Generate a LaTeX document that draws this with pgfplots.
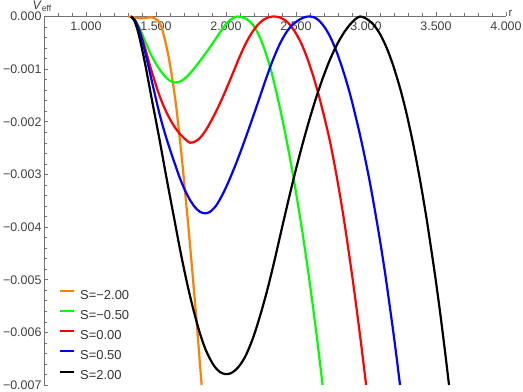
\documentclass[border=0pt]{standalone}
\usepackage{fontspec}
\setmainfont{Liberation Sans}
\usepackage{pgfplots}
\pgfplotsset{compat=1.18}
\definecolor{mOrange}{rgb}{1,0.5,0}
\definecolor{mGreen}{rgb}{0,1,0}
\definecolor{axisgray}{gray}{0.45}
\begin{document}
\begin{tikzpicture}
\begin{axis}[
  scale only axis, width=462bp, height=368.5bp,
  xmin=0.7, xmax=4.0, ymin=-0.007, ymax=0,
  axis x line=top, axis y line=left,
  axis line style={draw=axisgray, line width=0.7bp, -},
  every outer x axis line/.append style={-}, every outer y axis line/.append style={-},
  every inner x axis line/.append style={-}, every inner y axis line/.append style={-},
  clip=false,
  xtick={1,1.5,2,2.5,3,3.5,4},
  xticklabels={1.000,1.500,2.000,2.500,3.000,3.500,4.000},
  minor xtick={0.8,0.9,1.1,1.2,1.3,1.4,1.6,1.7,1.8,1.9,2.1,2.2,2.3,2.4,2.6,2.7,2.8,2.9,3.1,3.2,3.3,3.4,3.6,3.7,3.8,3.9},
  ytick={-0.007,-0.006,-0.005,-0.004,-0.003,-0.002,-0.001,0},
  yticklabels={−0.007,−0.006,−0.005,−0.004,−0.003,−0.002,−0.001,0.000},
  minor y tick num=4,
  scaled ticks=false,
  tick align=inside,
  major tick length=4.5bp, minor tick length=3bp,
  tick style={draw=axisgray, line width=0.6bp},
  every major x tick/.append style={yshift=4.5bp},
  every minor x tick/.append style={yshift=3bp},
  tick label style={font=\fontsize{12.5}{14}\selectfont, text=black!75},
  yticklabel style={xshift=1bp},
  xticklabel style={anchor=north, yshift=-1.5bp},
  xlabel={r}, ylabel={\textit{V}\textsubscript{eff}},
  every axis x label/.style={at={(rel axis cs:1,1)}, anchor=base west, xshift=-1bp, yshift=0bp, font=\fontsize{11.5}{13}\selectfont, text=black!75},
  every axis y label/.style={at={(rel axis cs:0,1)}, anchor=base west, xshift=-15bp, yshift=7bp, font=\fontsize{12.5}{14}\selectfont, text=black!75},
  legend style={draw=none, fill=none, at={(rel axis cs:0,0)}, anchor=south west, xshift=15bp, yshift=2bp,
    font=\fontsize{13}{15}\selectfont, text=black!80, row sep=5.5bp, inner sep=0pt, nodes={inner sep=2bp},
    /tikz/every odd column/.style={column sep=3bp}},
  legend cell align=left,
  legend image code/.code={\draw[#1,line width=2bp] (0bp,4bp) -- (14bp,4bp);},
  every axis plot/.append style={line width=2.2bp, smooth, tension=0.5},
]
\addplot[color=mOrange] coordinates {
 (1.302,0) (1.343,-0.0000152) (1.386,-0.0000323) (1.429,-0.0000266) (1.464,-0.0000133)
 (1.493,-0.000038) (1.514,-0.000076) (1.536,-0.0001805) (1.557,-0.0003704) (1.579,-0.0006174)
 (1.6,-0.0009119) (1.621,-0.0012633) (1.643,-0.0016812) (1.664,-0.0021752) (1.686,-0.0027261)
 (1.707,-0.003315) (1.729,-0.0039229) (1.75,-0.0045498) (1.771,-0.0051957) (1.793,-0.0058796)
 (1.814,-0.0066014) (1.826,-0.007)
};
\addlegendentry{S=−2.00}
\addplot[color=mGreen] coordinates {
 (1.321,0) (1.35,-0.0000665) (1.379,-0.0001995) (1.407,-0.0003704) (1.436,-0.0005509)
 (1.464,-0.0007219) (1.493,-0.0008644) (1.521,-0.0009878) (1.55,-0.0010923) (1.579,-0.0011778)
 (1.607,-0.001231) (1.636,-0.0012538) (1.664,-0.0012443) (1.693,-0.0012025) (1.729,-0.0011208)
 (1.764,-0.0010163) (1.814,-0.0008454) (1.864,-0.0006649) (1.914,-0.0004749) (1.957,-0.000304)
 (1.993,-0.000171) (2.021,-0.0000855) (2.05,-0.0000285) (2.079,0) (2.114,-0.0000152)
 (2.15,-0.0000532) (2.186,-0.0001387) (2.221,-0.0002812) (2.257,-0.0004901) (2.293,-0.0007656)
 (2.329,-0.001098) (2.371,-0.0015653) (2.421,-0.0021904) (2.471,-0.0028951) (2.521,-0.0036797)
 (2.564,-0.0044206) (2.607,-0.0052299) (2.65,-0.0061075) (2.69,-0.007)
};
\addlegendentry{S=−0.50}
\addplot[color=red] coordinates {
 (1.321,0) (1.35,-0.000076) (1.379,-0.0002375) (1.407,-0.0004654) (1.436,-0.0007314)
 (1.464,-0.0009973) (1.493,-0.0012443) (1.521,-0.0014723) (1.55,-0.0016717) (1.579,-0.0018427)
 (1.607,-0.0019852) (1.636,-0.0021087) (1.671,-0.0022321) (1.707,-0.0023271) (1.743,-0.0023974)
 (1.779,-0.0023746) (1.814,-0.0023081) (1.85,-0.0021847) (1.886,-0.0020232) (1.929,-0.0018047)
 (1.971,-0.0015673) (2.014,-0.0013013) (2.057,-0.0010258) (2.1,-0.0007504) (2.143,-0.0005034)
 (2.186,-0.000304) (2.229,-0.000152) (2.271,-0.000057) (2.307,-0.0000133) (2.343,0)
 (2.386,-0.000019) (2.436,-0.0000988) (2.479,-0.0002356) (2.529,-0.0004616) (2.571,-0.0007238)
 (2.614,-0.0010543) (2.657,-0.0014419) (2.7,-0.0018864) (2.743,-0.0023765) (2.786,-0.0029692)
 (2.829,-0.0036303) (2.864,-0.0042382) (2.907,-0.0050361) (2.957,-0.0060467) (3.001,-0.007)
};
\addlegendentry{S=0.00}
\addplot[color=blue] coordinates {
 (1.321,0) (1.35,-0.0000722) (1.386,-0.0003135) (1.421,-0.0006611) (1.457,-0.0010733)
 (1.493,-0.0014913) (1.529,-0.0018902) (1.564,-0.0022226) (1.6,-0.0025266) (1.636,-0.0028077)
 (1.671,-0.0030737) (1.707,-0.0033017) (1.743,-0.0034859) (1.779,-0.0036246) (1.814,-0.0037101)
 (1.85,-0.0037386) (1.886,-0.0037101) (1.936,-0.0035676) (1.993,-0.0032865) (2.05,-0.0029369)
 (2.1,-0.0025969) (2.171,-0.0020726) (2.243,-0.0015179) (2.293,-0.0011284) (2.336,-0.0008188)
 (2.386,-0.0005129) (2.436,-0.0002812) (2.479,-0.0001482) (2.529,-0.0000532) (2.564,-0.0000114)
 (2.6,0) (2.636,-0.0000237) (2.671,-0.000095) (2.707,-0.0002137) (2.743,-0.0003799)
 (2.779,-0.0005937) (2.814,-0.0008473) (2.85,-0.0011417) (2.886,-0.0014742) (2.921,-0.0018427)
 (2.957,-0.0022473) (2.993,-0.00269) (3.029,-0.0031687) (3.064,-0.0036892) (3.1,-0.0042553)
 (3.136,-0.0048689) (3.171,-0.0055281) (3.207,-0.0062329) (3.243,-0.007)
};
\addlegendentry{S=0.50}
\addplot[color=black] coordinates {
 (1.321,0) (1.343,-0.0000665) (1.364,-0.0002185) (1.386,-0.0004464) (1.414,-0.0007884)
 (1.443,-0.0011873) (1.471,-0.0015862) (1.5,-0.0019852) (1.529,-0.0023936) (1.564,-0.0029065)
 (1.6,-0.0034195) (1.636,-0.0039229) (1.671,-0.0044168) (1.707,-0.0048822) (1.743,-0.0053097)
 (1.779,-0.0056896) (1.814,-0.006022) (1.85,-0.0062975) (1.886,-0.0065065) (1.921,-0.0066584)
 (1.957,-0.0067534) (1.993,-0.0067914) (2.029,-0.0067819) (2.064,-0.0067249) (2.1,-0.0066204)
 (2.143,-0.0064305) (2.193,-0.0061075) (2.243,-0.0056896) (2.293,-0.0052147) (2.343,-0.0046733)
 (2.393,-0.0040939) (2.443,-0.0035239) (2.493,-0.002973) (2.543,-0.0024601) (2.593,-0.0019852)
 (2.643,-0.0015483) (2.693,-0.0011588) (2.743,-0.0008169) (2.793,-0.0005319) (2.843,-0.000304)
 (2.886,-0.000152) (2.921,-0.000057) (2.957,0) (3.0,-0.000038) (3.05,-0.0001425)
 (3.1,-0.0003324) (3.148,-0.0005984) (3.193,-0.0009214) (3.243,-0.0013583) (3.286,-0.0018028)
 (3.336,-0.0024088) (3.386,-0.003106) (3.429,-0.0037785) (3.457,-0.0042648) (3.493,-0.0049107)
 (3.529,-0.0056136) (3.564,-0.0063545) (3.593,-0.007)
};
\addlegendentry{S=2.00}
\end{axis}
\pgfresetboundingbox
\useasboundingbox (-44bp,-7bp) rectangle (479bp,385bp);
\end{tikzpicture}
\end{document}
